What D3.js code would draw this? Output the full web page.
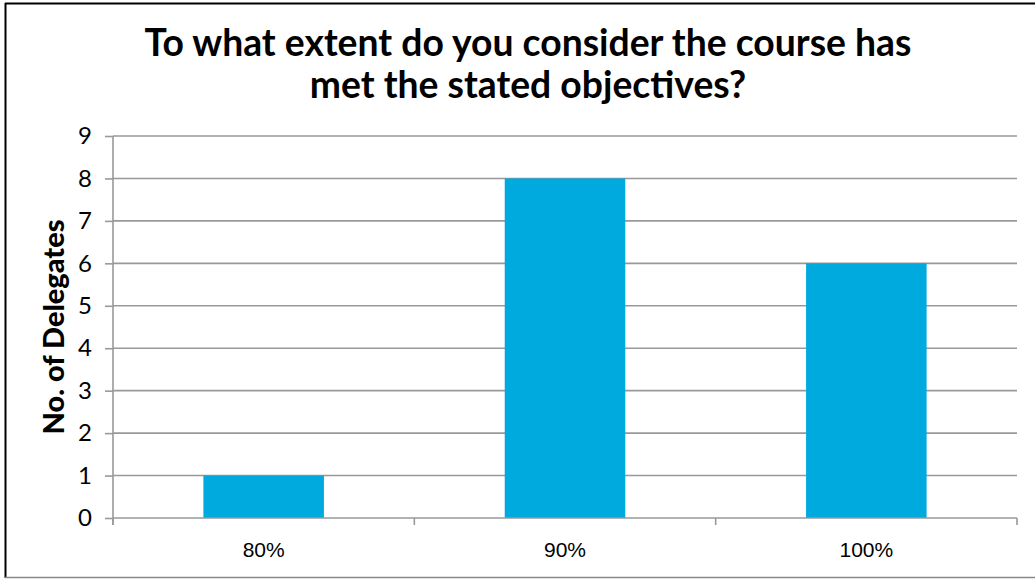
<!DOCTYPE html>
<html>
<head>
<meta charset="utf-8">
<script src="https://cdn.jsdelivr.net/npm/d3@7"></script>
<style>
  body { margin: 0; background: #fff; }
  svg { display: block; }
</style>
</head>
<body>
<svg id="chart"></svg>
<script>
// Chart data
const categories = ["80%", "90%", "100%"];
const delegates = [1, 8, 6];
const yTicks = [0, 1, 2, 3, 4, 5, 6, 7, 8, 9];
const titleLines = ["To what extent do you consider the course has", "met the stated objectives?"];
const yLabel = "No. of Delegates";

const W = 1035, H = 579;
const margin = { top: 136, right: 18, bottom: 61, left: 113 };
const width = W - margin.left - margin.right;
const height = H - margin.top - margin.bottom;

const svg = d3.select("#chart")
  .attr("width", W)
  .attr("height", H);

// Outer frame
svg.append("line").attr("x1", 5).attr("x2", W).attr("y1", 3.5).attr("y2", 3.5)
  .attr("stroke", "#000").attr("stroke-width", 2);
svg.append("line").attr("x1", 5.5).attr("x2", 5.5).attr("y1", 3).attr("y2", 578)
  .attr("stroke", "#000").attr("stroke-width", 2);
svg.append("line").attr("x1", 5).attr("x2", W).attr("y1", 577.5).attr("y2", 577.5)
  .attr("stroke", "#888").attr("stroke-width", 1.5);

const g = svg.append("g")
  .attr("transform", `translate(${margin.left},${margin.top})`);

// Scales
const x = d3.scaleBand()
  .domain(categories)
  .range([0, width])
  .paddingInner(0.6)
  .paddingOuter(0.3);

const y = d3.scaleLinear()
  .domain([0, 9])
  .range([height, 0]);

// Gridlines
g.selectAll(".grid")
  .data(yTicks.filter(d => d > 0))
  .enter().append("line")
  .attr("class", "grid")
  .attr("x1", 0)
  .attr("x2", width)
  .attr("y1", d => y(d))
  .attr("y2", d => y(d))
  .attr("stroke", "#999")
  .attr("stroke-width", 1.6);

// Bars
g.selectAll(".bar")
  .data(delegates)
  .enter().append("rect")
  .attr("class", "bar")
  .attr("x", (d, i) => x(categories[i]))
  .attr("y", d => y(d))
  .attr("width", x.bandwidth())
  .attr("height", d => height - y(d))
  .attr("fill", "#00AADF");

// Y axis
const yAxis = g.append("g")
  .call(d3.axisLeft(y).tickValues(yTicks).tickSize(8).tickPadding(13).tickFormat(d3.format("d")));
yAxis.select(".domain").attr("stroke", "#999").attr("stroke-width", 1.6)
  .attr("d", `M0,0V${height + 7}`);
yAxis.selectAll(".tick line").attr("stroke", "#999").attr("stroke-width", 1.6);
yAxis.selectAll("text")
  .style("font-family", "'Gill Sans', 'Gill Sans MT', Lato, sans-serif")
  .style("font-size", "24px")
  .attr("fill", "#000");

// X axis with ticks at category boundaries
const xAxis = g.append("g").attr("transform", `translate(0,${height})`);
xAxis.append("line")
  .attr("x1", 0).attr("x2", width).attr("y1", 0).attr("y2", 0)
  .attr("stroke", "#999").attr("stroke-width", 1.6);
const boundaries = categories.map((c, i) => i * x.step()).concat([width]);
xAxis.selectAll(".xtick")
  .data(boundaries)
  .enter().append("line")
  .attr("x1", d => d).attr("x2", d => d)
  .attr("y1", 0).attr("y2", 7)
  .attr("stroke", "#999").attr("stroke-width", 1.6);
xAxis.selectAll(".xlabel")
  .data(categories)
  .enter().append("text")
  .attr("x", d => x(d) + x.bandwidth() / 2)
  .attr("y", 39)
  .attr("text-anchor", "middle")
  .style("font-family", "Arial, 'Liberation Sans', sans-serif")
  .style("font-size", "21px")
  .attr("fill", "#000")
  .text(d => d);

// Y label, fitted to the reference length
const yl = svg.append("text")
  .attr("transform", "translate(64,327) rotate(-90)")
  .attr("text-anchor", "middle")
  .style("font-family", "'Gill Sans', 'Gill Sans MT', Lato, sans-serif")
  .style("font-weight", "900")
  .style("font-size", "24px")
  .attr("fill", "#000")
  .text(yLabel);
yl.style("font-size", (24 * 215 / yl.node().getComputedTextLength()) + "px");

// Title, fitted to the reference width
const title = svg.append("g");
const titleY = [56, 98];
title.selectAll("text")
  .data(titleLines)
  .enter().append("text")
  .attr("x", 528)
  .attr("y", (d, i) => titleY[i])
  .attr("text-anchor", "middle")
  .style("font-family", "'Gill Sans', 'Gill Sans MT', Lato, sans-serif")
  .style("font-weight", "bold")
  .style("font-size", "32px")
  .attr("fill", "#000")
  .text(d => d);
const first = title.select("text").node();
const len = first.getComputedTextLength();
const fitted = 32 * 767 / len;
title.selectAll("text").style("font-size", fitted + "px");
</script>
</body>
</html>
